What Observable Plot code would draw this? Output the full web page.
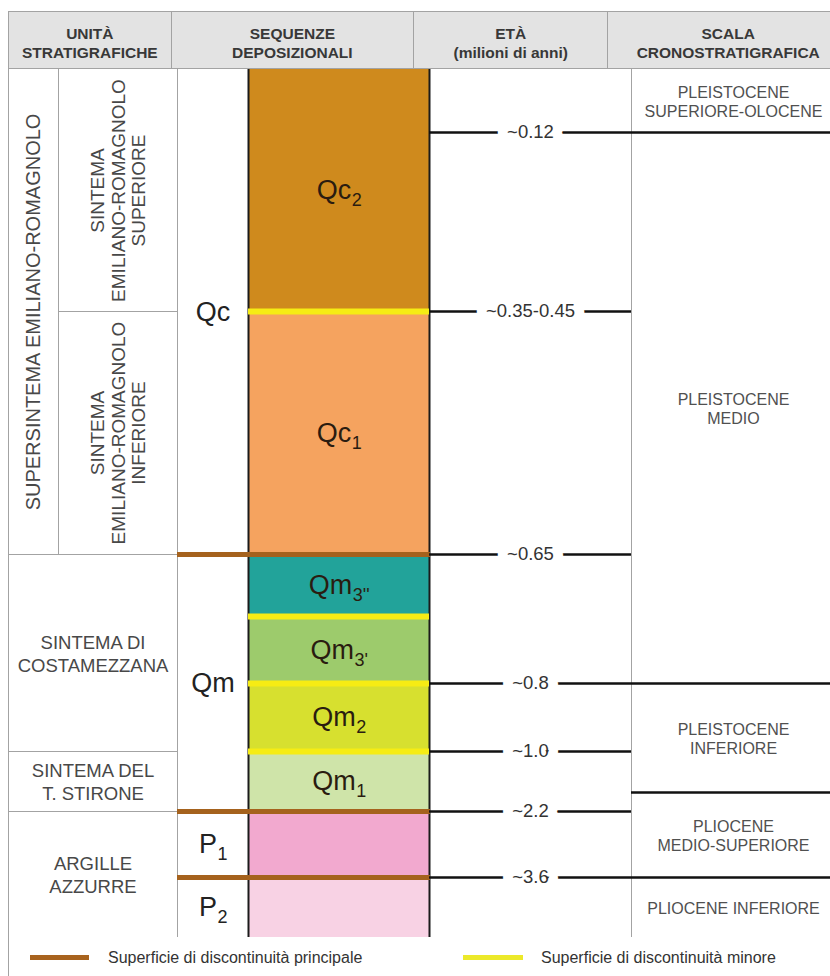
<!DOCTYPE html>
<html>
<head>
<meta charset="utf-8">
<script src="https://cdn.jsdelivr.net/npm/d3@7"></script>
<script src="https://cdn.jsdelivr.net/npm/@observablehq/plot@0.6"></script>
<style>
  body { margin: 0; background: #fff; font-family: "Liberation Sans", Arial, Helvetica, sans-serif; }
  #wrap { position: relative; width: 830px; height: 976px; overflow: hidden; background: #fff; }
  #head { position: absolute; left: 8px; top: 11px; width: 840px; height: 56px; background: #e3e3e3;
          border-top: 1px solid #a3a3a3; border-bottom: 1px solid #a3a3a3; border-left: 1px solid #a3a3a3; display: flex; }
  .hc { box-sizing: border-box; height: 56px; border-right: 1px solid #a3a3a3; display: flex; flex-direction: column;
        align-items: center; justify-content: center; padding-top: 6px; font-size: 15.5px; line-height: 19px;
        color: #383838; font-weight: bold; text-align: center; white-space: nowrap; }
  #chart { position: absolute; left: 0; top: 69px; width: 830px; height: 868px; }
  #chart svg { display: block; max-width: none; }
  #legend { position: absolute; left: 8px; top: 937px; width: 840px; height: 40px; border-left: 1px solid #a3a3a3; }
  .sw { position: absolute; height: 5px; }
  .lt { position: absolute; font-size: 16px; line-height: 20px; color: #333; white-space: nowrap; }
</style>
</head>
<body>
<div id="wrap">
  <div id="head">
    <div class="hc" style="width:169px">UNITÀ<br>STRATIGRAFICHE</div>
    <div class="hc" style="width:252px">SEQUENZE<br>DEPOSIZIONALI</div>
    <div class="hc" style="width:202px">ETÀ<br>(milioni di anni)</div>
    <div class="hc" style="width:250px">SCALA<br>CRONOSTRATIGRAFICA</div>
  </div>
  <div id="chart"></div>
  <div id="legend">
    <div class="sw" style="left:21px;top:18px;width:59px;background:#a8631e"></div>
    <div class="lt" style="left:99px;top:11px">Superficie di discontinuità principale</div>
    <div class="sw" style="left:454px;top:18px;width:60px;background:#ece92a"></div>
    <div class="lt" style="left:532px;top:11px">Superficie di discontinuità minore</div>
  </div>
</div>
<script>
// ---------------- data ----------------
// depositional layers (coloured column), top to bottom; ages in millions of years
const layerNames  = ["Qc2", "Qc1", "Qm3''", "Qm3'", "Qm2", "Qm1", "P1", "P2"];
const layerMain   = ["Qc", "Qc", "Qm", "Qm", "Qm", "Qm", "", ""];
const layerSub    = ["2", "1", "3''", "3'", "2", "1", "", ""];
const layerTop    = [0, 0.4, 0.65, 0.72, 0.8, 1.0, 2.2, 3.6];
const layerBottom = [0.4, 0.65, 0.72, 0.8, 1.0, 2.2, 3.6, 5.3];

// depositional sequences column
const seqMain   = ["Qc", "Qm", "P", "P"];
const seqSub    = ["", "", "1", "2"];
const seqTop    = [0, 0.65, 2.2, 3.6];
const seqBottom = [0.65, 2.2, 3.6, 5.3];

// discontinuity surfaces
const principalSurfaces = [0.65, 2.2, 3.6];
const minorSurfaces     = [0.4, 0.72, 0.8, 1.0];

// ages
const ageLabels = ["~0.12", "~0.35-0.45", "~0.65", "~0.8", "~1.0", "~2.2", "~3.6"];
const ageValues = [0.12, 0.4, 0.65, 0.8, 1.0, 2.2, 3.6];

// chronostratigraphic scale
const chronoNames  = ["PLEISTOCENE\nSUPERIORE-OLOCENE", "PLEISTOCENE\nMEDIO", "PLEISTOCENE\nINFERIORE",
                      "PLIOCENE\nMEDIO-SUPERIORE", "PLIOCENE INFERIORE"];
const chronoTop    = [0, 0.12, 0.8, 1.8, 3.6];
const chronoBottom = [0.12, 0.8, 1.8, 3.6, 5.3];

// stratigraphic units (column index 0..2 = unit columns)
const unitNames   = ["SUPERSINTEMA EMILIANO-ROMAGNOLO", "SINTEMA\nEMILIANO-ROMAGNOLO\nSUPERIORE",
                     "SINTEMA\nEMILIANO-ROMAGNOLO\nINFERIORE", "SINTEMA DI\nCOSTAMEZZANA",
                     "SINTEMA DEL\nT. STIRONE", "ARGILLE\nAZZURRE"];
const unitCol1    = [0, 1, 1, 0, 0, 0];
const unitCol2    = [1, 2, 2, 2, 2, 2];
const unitTop     = [0, 0, 0.4, 0.65, 1.0, 2.2];
const unitBottom  = [0.65, 0.4, 0.65, 1.0, 2.2, 5.3];
const unitVertical = [true, true, true, false, false, false];

// ---------------- scales (layout) ----------------
const layerColors = ["#cf8a1d", "#f5a35f", "#22a39a", "#9dcb6c", "#d7e02f", "#cfe4a9", "#f2a9cf", "#f8d2e4"];
const colEdges = [0, 1, 2, 3, 4, 5, 6];
const colPx    = [8, 58, 177, 248, 429, 631, 835];
const ageStops = [0, 0.12, 0.4, 0.65, 0.72, 0.8, 1.0, 1.8, 2.2, 3.6, 5.3];
const agePx    = [0, 63, 242, 485, 547, 614, 682, 723, 742, 808, 868];

const xs = d3.scaleLinear(colEdges, colPx);
const ys = d3.scaleLinear(ageStops, agePx);
const midX = (a, b) => xs.invert((xs(a) + xs(b)) / 2);
const midY = (a, b) => ys.invert((ys(a) + ys(b)) / 2);
const K = v => () => v;

const FONT = '"Liberation Sans", Arial, Helvetica, sans-serif';
const ctx = document.createElement("canvas").getContext("2d");
const textW = (t, s) => { ctx.font = `${s}px ${FONT}`; return ctx.measureText(t).width; };

const layers = layerNames.map((name, i) => ({name, main: layerMain[i], sub: layerSub[i], top: layerTop[i], bottom: layerBottom[i]}));
const seqs = seqMain.map((main, i) => ({main, sub: seqSub[i], top: seqTop[i], bottom: seqBottom[i]}));
const ages = ageValues.map((age, i) => ({age, label: ageLabels[i]}));
const chrono = chronoNames.map((name, i) => ({name, top: chronoTop[i], bottom: chronoBottom[i]}));
const units = unitNames.map((name, i) => ({name, c1: unitCol1[i], c2: unitCol2[i], top: unitTop[i], bottom: unitBottom[i], vertical: unitVertical[i]}));

const GRAY = "#a3a3a3";
const MAIN = 27, SUB = 18;

function subLabels(data, c1, c2, fill) {
  const out = [];
  for (const d of data) {
    if (!d.main) continue;
    const mw = textW(d.main, MAIN), sw = d.sub ? textW(d.sub, SUB) : 0;
    const dx = (mw - sw) / 2;
    const x = K(midX(c1, c2)), y = K(midY(d.top, d.bottom));
    out.push(Plot.text([d], {x, y, text: "main", textAnchor: "end", dx, fontSize: MAIN, fill}));
    if (d.sub) out.push(Plot.text([d], {x, y, text: "sub", textAnchor: "start", dx: dx + 0.5, dy: 10, fontSize: SUB, fill}));
  }
  return out;
}

const chart = Plot.plot({
  width: 830,
  height: 868,
  margin: 0,
  style: {fontFamily: FONT, background: "transparent", maxWidth: "none"},
  x: {type: "linear", domain: colEdges, range: colPx, axis: null},
  y: {type: "linear", domain: ageStops, range: agePx, axis: null},
  color: {type: "ordinal", domain: layerNames, range: layerColors},
  marks: [
    Plot.rect(layers, {x1: K(3), x2: K(4), y1: "top", y2: "bottom", fill: "name"}),
    // grey cell borders
    Plot.ruleY(units, {y: "bottom", x1: "c1", x2: "c2", stroke: GRAY, strokeWidth: 1}),
    Plot.ruleX(units, {x: "c1", y1: "top", y2: "bottom", stroke: GRAY, strokeWidth: 1}),
    Plot.ruleX([2, 5], {y1: K(0), y2: K(5.3), stroke: GRAY, strokeWidth: 1}),
    Plot.ruleY([5.3], {x1: K(0), x2: K(6), stroke: GRAY, strokeWidth: 1}),
    // black column edges
    Plot.ruleX([3, 4], {y1: K(0), y2: K(5.3), stroke: "#1b1b1b", strokeWidth: 2}),
    // surfaces
    Plot.ruleY(minorSurfaces, {x1: K(3), x2: K(4), stroke: "#f6ec14", strokeWidth: 6}),
    Plot.ruleY(principalSurfaces, {x1: K(2), x2: K(4.005), stroke: "#a5621d", strokeWidth: 5}),
    // age lines and chronostratigraphic boundaries
    Plot.ruleY(ages, {y: "age", x1: K(4), x2: K(5), stroke: "#111", strokeWidth: 2.6}),
    Plot.ruleY(chrono.slice(1), {y: "top", x1: K(5), x2: K(6), stroke: "#111", strokeWidth: 2.6}),
    // age labels with halo
    Plot.text(ages, {x: K(midX(4, 5)), y: "age", text: "label", fontSize: 18.5, fill: "#333",
                     stroke: "white", strokeWidth: 20, strokeLinejoin: "round", paintOrder: "stroke"}),
    // chronostratigraphic labels
    Plot.text(chrono, {x: K(midX(5, 6)), y: d => midY(d.top, d.bottom), text: "name", fontSize: 16,
                       lineHeight: 1.2, fill: "#505050"}),
    // unit labels
    Plot.text(units.filter(d => d.vertical && d.c1 === 0), {x: d => midX(d.c1, d.c2), y: d => midY(d.top, d.bottom), text: "name",
                       rotate: -90, fontSize: 20, fill: "#484848"}),
    Plot.text(units.filter(d => d.vertical && d.c1 !== 0), {x: d => midX(d.c1, d.c2), y: d => midY(d.top, d.bottom), text: "name",
                       rotate: -90, fontSize: 19, lineHeight: 1.08, fill: "#484848"}),
    Plot.text(units.filter(d => !d.vertical), {x: d => midX(d.c1, d.c2), y: d => midY(d.top, d.bottom), text: "name",
                       fontSize: 18.5, lineHeight: 1.25, fill: "#484848"}),
    ...subLabels(layers, 3, 4, "#2a1c10"),
    ...subLabels(seqs, 2, 3, "#222")
  ]
});
document.getElementById("chart").appendChild(chart);
</script>
</body>
</html>
